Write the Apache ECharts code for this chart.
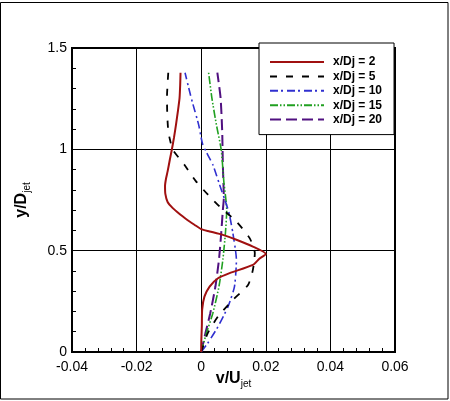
<!DOCTYPE html>
<html><head><meta charset="utf-8">
<script src="https://cdn.jsdelivr.net/npm/echarts@6/dist/echarts.min.js"></script>
<style>html,body{margin:0;padding:0;background:#fff}#c{width:450px;height:401px}</style>
</head><body><div id="c"></div>
<script>
const seriesNames = ['x/Dj = 2', 'x/Dj = 5', 'x/Dj = 10', 'x/Dj = 15', 'x/Dj = 20'];
const xTicks = [-0.04, -0.02, 0, 0.02, 0.04, 0.06];
const yTicks = [0, 0.5, 1, 1.5];

const y2 = [0, 0.03, 0.13, 0.21, 0.273, 0.323, 0.364, 0.389, 0.43, 0.46, 0.484, 0.52, 0.554, 0.578, 0.595, 0.606, 0.628, 0.644, 0.66, 0.677, 0.71, 0.74, 0.78, 0.82, 0.855, 0.891, 0.95, 0.998, 1.06, 1.122, 1.19, 1.254, 1.32, 1.378];
const v2 = [0, 0, 0.0002, 0.0003, 0.001, 0.0026, 0.0052, 0.0088, 0.016, 0.018, 0.020, 0.016, 0.0109, 0.0067, 0.0026, 0, -0.0021, -0.0036, -0.005, -0.0064, -0.0088, -0.0104, -0.0111, -0.0112, -0.0109, -0.0104, -0.0097, -0.0091, -0.0084, -0.0078, -0.0072, -0.0067, -0.0065, -0.0064];

const y5 = [0, 0.092, 0.175, 0.257, 0.331, 0.405, 0.488, 0.562, 0.644, 0.71, 0.776, 0.842, 0.924, 0.998, 1.05, 1.089, 1.17, 1.254, 1.378];
const v5 = [0, 0.002, 0.0052, 0.0098, 0.0145, 0.016, 0.0166, 0.015, 0.0109, 0.0062, 0.0021, -0.0016, -0.0052, -0.0088, -0.0097, -0.0102, -0.0105, -0.0106, -0.0102];

const y10 = [0, 0.043, 0.125, 0.224, 0.323, 0.455, 0.587, 0.693, 0.825, 0.924, 1.023, 1.122, 1.254, 1.378];
const v10 = [0, 0.002, 0.0052, 0.0083, 0.0103, 0.0109, 0.0098, 0.0085, 0.0057, 0.0036, 0.0005, -0.0008, -0.0031, -0.005];

const y15 = [0, 0.092, 0.191, 0.323, 0.455, 0.587, 0.70, 0.842, 0.998, 1.122, 1.254, 1.378];
const v15 = [0, 0.0016, 0.0036, 0.0055, 0.0067, 0.0075, 0.0079, 0.007, 0.0062, 0.0047, 0.0033, 0.0023];

const y20 = [0, 0.092, 0.191, 0.323, 0.455, 0.587, 0.70, 0.76, 0.924, 1.089, 1.254, 1.378];
const v20 = [0, 0.0013, 0.0028, 0.0044, 0.0055, 0.0062, 0.0067, 0.007, 0.0067, 0.0065, 0.006, 0.005];

const profiles = [[v2, y2], [v5, y5], [v10, y10], [v15, y15], [v20, y20]];
const styles = [
  {color: '#a01010', width: 2, type: 'solid'},
  {color: '#000000', width: 1.8, type: [7, 9]},
  {color: '#3030d0', width: 1.6, type: [8, 3, 2, 4]},
  {color: '#20a020', width: 1.6, type: [8, 2, 1.5, 2, 1.5, 2]},
  {color: '#501080', width: 2, type: [11, 5]}
];
const FONT = '"Liberation Sans", Arial, Helvetica, sans-serif';

const chart = echarts.init(document.getElementById('c'), null, {renderer: 'canvas'});
const series = profiles.map((p, i) => ({
  name: seriesNames[i],
  type: 'line',
  data: p[0].map((v, k) => [v, p[1][k]]),
  symbol: 'none',
  showSymbol: false,
  smooth: 0.2,
  lineStyle: styles[i],
  itemStyle: {color: styles[i].color},
  z: 10 - i
}));

const nameRich = {
  a: {fontFamily: FONT, fontSize: 16, fontWeight: 'bold', color: '#000', lineHeight: 18, verticalAlign: 'top'},
  b: {fontFamily: FONT, fontSize: 10, color: '#000', lineHeight: 12, verticalAlign: 'bottom'}
};

chart.setOption({
  animation: false,
  backgroundColor: '#fff',
  grid: {left: 72, top: 48, width: 323, height: 304, show: true, borderColor: '#000', borderWidth: 2, backgroundColor: 'transparent'},
  xAxis: {
    type: 'value', min: xTicks[0], max: xTicks[xTicks.length - 1], interval: 0.02,
    axisLine: {show: true, onZero: false, lineStyle: {color: '#000', width: 2}},
    axisTick: {show: true, inside: true, length: 8, lineStyle: {color: '#000', width: 1}},
    minorTick: {show: true, splitNumber: 5, length: 4, lineStyle: {color: '#000', width: 1}},
    splitLine: {show: true, lineStyle: {color: '#000', width: 1}},
    axisLabel: {color: '#000', fontFamily: FONT, fontSize: 14, margin: 8,
      formatter: v => String(Math.round(v * 100) / 100)},
    name: '{a|v/U}{b|jet}', nameLocation: 'middle', nameGap: 19, nameMoveOverlap: false,
    nameTextStyle: {rich: nameRich, lineHeight: 31}
  },
  yAxis: {
    type: 'value', min: yTicks[0], max: yTicks[yTicks.length - 1], interval: 0.5,
    axisLine: {show: true, onZero: false, lineStyle: {color: '#000', width: 2}},
    axisTick: {show: true, inside: true, length: 8, lineStyle: {color: '#000', width: 1}},
    minorTick: {show: true, splitNumber: 5, length: 4, lineStyle: {color: '#000', width: 1}},
    splitLine: {show: true, lineStyle: {color: '#000', width: 1}},
    axisLabel: {color: '#000', fontFamily: FONT, fontSize: 14, margin: 5},
    name: '{a|y/D}{b|jet}', nameLocation: 'middle', nameGap: 40,
    nameTextStyle: {rich: nameRich, lineHeight: 31}
  },
  legend: {
    orient: 'vertical', left: 259, top: 43,
    data: seriesNames,
    backgroundColor: '#fff', borderColor: '#000', borderWidth: 1, borderRadius: 0,
    padding: [12, 12, 8, 10],
    itemWidth: 54, itemHeight: 14, itemGap: 0.4,
    itemStyle: {opacity: 0, borderWidth: 0},
    textStyle: {fontFamily: FONT, fontSize: 12, fontWeight: 'bold', color: '#000', padding: [0, 0, 0, 4], lineHeight: 14},
    z: 20
  },
  graphic: [{
    type: 'rect', shape: {x: 0.5, y: 2.5, width: 447.5, height: 396.5},
    style: {fill: 'none', stroke: '#000', lineWidth: 1}, silent: true, z: 100
  }],
  series: series
});
</script></body></html>
